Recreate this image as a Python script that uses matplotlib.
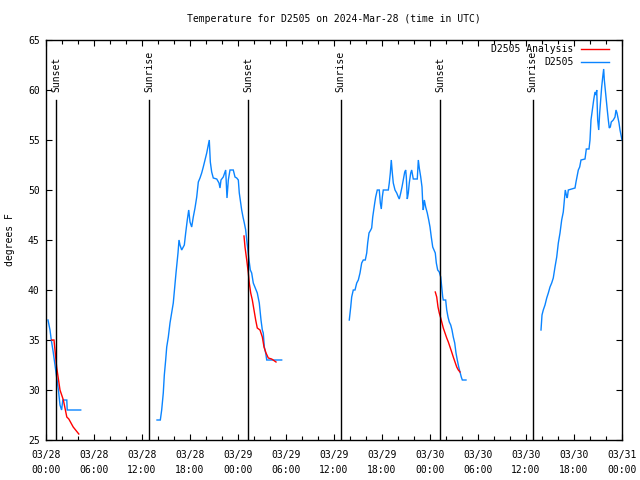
import numpy as np
import matplotlib
matplotlib.use("Agg")
import matplotlib.pyplot as plt
from matplotlib.lines import Line2D
from matplotlib.ticker import MultipleLocator

# ---- data (hours since 2024-03-28 00:00 UTC, degrees F) ----
obs1_h = [0.25, 0.5, 0.66, 0.9, 1.09, 1.34, 1.55, 1.75, 1.95, 2.1, 2.6, 2.65, 4.34]
obs1_t = [37, 36, 35, 33.8, 32.7, 31.3, 30, 28.5, 28, 29, 29, 28, 28]

obs2_h = [13.875, 14.29, 14.46, 14.66, 14.79, 14.96, 15.09, 15.29, 15.5, 15.71, 15.91,
          16.09, 16.25, 16.375, 16.5, 16.625, 16.75, 16.96, 17.29, 17.46, 17.66, 17.84,
          18.0, 18.21, 18.41, 18.625, 18.84, 19.04, 19.25, 19.46, 19.66, 19.875, 20.09,
          20.29, 20.41, 20.54, 20.71, 20.91, 21.34, 21.625, 21.75, 21.875, 22.16, 22.46,
          22.625, 22.79, 23.0, 23.41, 23.625, 23.84, 24.04, 24.16, 24.34, 24.46, 24.625,
          24.79, 24.96, 25.09, 25.21, 25.375, 25.54, 25.71, 25.91, 26.25, 26.41, 26.66,
          26.875, 27.04, 27.16, 27.29, 27.46, 27.59, 29.46]
obs2_t = [27, 27, 28, 29.7, 31.5, 33, 34.3, 35.3, 36.7, 37.7, 38.7,
          40.3, 41.7, 42.7, 43.7, 45, 44.5, 44, 44.5, 45.7, 47, 48,
          46.8, 46.3, 47.3, 48.2, 49.3, 50.8, 51.2, 51.7, 52.3, 53, 53.7,
          54.5, 55, 52.8, 51.8, 51.2, 51.1, 50.7, 50.2, 51, 51.3, 52,
          49.2, 51, 52, 52, 51.3, 51.2, 51, 49.7, 48.7, 48, 47.3,
          46.7, 46, 45, 44.2, 43, 42, 41.7, 40.7, 40, 39.7, 38.7,
          37, 36, 35.7, 34.3, 33.7, 33, 33]

obs3_h = [37.91, 38.09, 38.21, 38.41, 38.625, 38.84, 39.04, 39.25, 39.46, 39.66, 39.91,
          40.09, 40.21, 40.375, 40.59, 40.71, 40.84, 40.96, 41.09, 41.21, 41.41, 41.66,
          41.79, 41.91, 42.04, 42.16, 42.79, 42.91, 43.04, 43.16, 43.29, 43.41, 43.625,
          43.84, 44.04, 44.16, 44.34, 44.5, 44.66, 44.84, 44.96, 45.04, 45.16, 45.29,
          45.41, 45.59, 45.71, 45.91, 46.41, 46.54, 46.66, 46.84, 47.0, 47.09, 47.16,
          47.29, 47.46, 47.66, 47.84, 48.0, 48.16, 48.34, 48.5, 48.66, 48.79, 48.96,
          49.16, 49.34, 49.46, 49.59, 49.66, 49.96, 50.09, 50.25, 50.41, 50.59, 50.75,
          50.91, 51.09, 51.25, 51.41, 51.59, 51.75, 51.91, 52.04, 52.5]
obs3_t = [37, 38.3, 39.3, 40, 40, 40.7, 41, 41.7, 42.7, 43, 43,
          43.7, 44.7, 45.7, 46, 46.2, 47.3, 48, 48.7, 49.3, 50, 50,
          48.7, 48.1, 49.3, 50, 50, 50.7, 51.7, 53, 51.7, 50.7, 50,
          49.7, 49.3, 49.1, 49.7, 50.3, 51, 51.8, 52, 51.3, 49.1, 49.7,
          50.7, 51.7, 52, 51.1, 51.1, 53, 52.2, 51.3, 50.3, 48.7, 48,
          49, 48.3, 47.7, 47, 46.3, 45.3, 44.3, 44, 43.7, 42.7, 42,
          41.8, 41.3, 40.3, 39.3, 39, 39, 38, 37.3, 36.8, 36.5, 36,
          35.3, 34.7, 33.7, 33, 32.3, 31.8, 31.3, 31, 31]

obs4_h = [61.875, 62.0, 62.16, 62.375, 62.59, 62.79, 63.0, 63.21, 63.41, 63.625, 63.84,
          64.04, 64.25, 64.46, 64.66, 64.79, 64.91, 65.04, 65.16, 65.29, 66.125, 66.25,
          66.375, 66.54, 66.71, 66.875, 67.375, 67.54, 67.875, 68.0, 68.125, 68.29, 68.46,
          68.625, 68.75, 68.84, 68.96, 69.09, 69.21, 69.34, 69.46, 69.59, 69.71, 69.79,
          69.91, 70.04, 70.16, 70.29, 70.41, 70.54, 70.66, 70.91, 71.125, 71.25, 71.375,
          71.5, 71.625, 71.75, 71.875, 72.0]
obs4_t = [36, 37.5, 38, 38.5, 39.2, 39.7, 40.3, 40.7, 41.2, 42.3, 43.3,
          44.7, 45.7, 47, 47.8, 49, 50, 49.5, 49.2, 50, 50.2, 50.8,
          51.3, 52, 52.3, 53, 53.1, 54.1, 54.1, 55, 57, 58, 59,
          59.8, 59.5, 60, 57, 56, 57.7, 59, 60.3, 61.3, 62.1, 61,
          60, 59, 58, 57, 56.2, 56.3, 56.8, 57, 57.3, 58, 57.7,
          57.2, 56.7, 56, 55.5, 55]

ana1_h = [0.71, 1.0, 1.33, 1.75, 2.17, 2.6, 2.85, 3.4, 4.1]
ana1_t = [35, 35, 32.3, 30, 29, 27.3, 27.1, 26.3, 25.6]

ana2_h = [24.75, 24.875, 25.09, 25.29, 25.41, 25.59, 25.79, 26.0, 26.21, 26.41, 26.75,
          27.04, 27.25, 27.5, 27.79, 28.21, 28.75]
ana2_t = [45.4, 44.3, 43, 41.7, 40.7, 39.7, 39, 38, 37, 36.2, 36,
          35.3, 34.3, 33.7, 33.2, 33.1, 32.8]

ana3_h = [48.66, 48.84, 49.0, 49.16, 49.34, 49.5, 49.66, 49.875, 50.09, 50.29, 50.5,
          50.71, 50.91, 51.125, 51.34, 51.54, 51.75]
ana3_t = [39.8, 39.3, 38.3, 37.7, 37.2, 36.7, 36.2, 35.7, 35.2, 34.8, 34.3,
          33.8, 33.3, 32.8, 32.3, 32, 31.8]

sun_events = ["Sunset", "Sunrise", "Sunset", "Sunrise", "Sunset", "Sunrise"]
sun_hours = [1.25, 12.9, 25.27, 36.85, 49.3, 60.82]

tick_hours = [0, 6, 12, 18, 24, 30, 36, 42, 48, 54, 60, 66, 72]
tick_labels = ["03/28\n00:00", "03/28\n06:00", "03/28\n12:00", "03/28\n18:00",
               "03/29\n00:00", "03/29\n06:00", "03/29\n12:00", "03/29\n18:00",
               "03/30\n00:00", "03/30\n06:00", "03/30\n12:00", "03/30\n18:00",
               "03/31\n00:00"]

title = "Temperature for D2505 on 2024-Mar-28 (time in UTC)"
ylabel = "degrees F"
ana_label = "D2505 Analysis"
obs_label = "D2505"


def join(segs_h, segs_t):
    hh, tt = [], []
    for h, t in zip(segs_h, segs_t):
        hh += list(h) + [np.nan]
        tt += list(t) + [np.nan]
    return np.array(hh), np.array(tt)


RED = "#ff0000"
BLUE = "#0a84ff"
FONT = "DejaVu Sans Mono"
FS = 7

plt.rcParams["font.family"] = FONT
plt.rcParams["font.size"] = FS

fig = plt.figure(figsize=(6.4, 4.8), dpi=100)
ax = fig.add_axes([46 / 640, 40 / 480, 576 / 640, 400 / 480])

ah, at = join([ana1_h, ana2_h, ana3_h], [ana1_t, ana2_t, ana3_t])
oh, ot = join([obs1_h, obs2_h, obs3_h, obs4_h], [obs1_t, obs2_t, obs3_t, obs4_t])

ax.plot(oh, ot, color=BLUE, lw=1.0, solid_joinstyle="miter")
ax.plot(ah, at, color=RED, lw=1.0, solid_joinstyle="miter")

ax.set_xlim(0, 72)
ax.set_ylim(25, 65)

line_top = 59.0
for name, h in zip(sun_events, sun_hours):
    ax.plot([h, h], [25, line_top], color="black", lw=1.0)
    ax.text(h, 59.8, name, rotation=90, ha="center", va="bottom",
            fontsize=FS, family=FONT)

ax.set_xticks(tick_hours)
ax.set_xticklabels(tick_labels, linespacing=1.7)
ax.xaxis.set_minor_locator(MultipleLocator(2))
ax.set_yticks(np.arange(25, 66, 5))

ax.tick_params(axis="both", which="both", direction="in", top=True, right=True,
               width=0.8, labelsize=FS, colors="black")
ax.tick_params(axis="x", which="major", length=4, pad=7)
ax.tick_params(axis="x", which="minor", length=3)
ax.tick_params(axis="y", which="major", length=4, pad=4.5)
for s in ax.spines.values():
    s.set_linewidth(1.0)

# title centred over the plot area, as gnuplot does
ax.text(0.5, 1 + 21 / 400, title, transform=ax.transAxes, ha="center", va="center",
        fontsize=FS, family=FONT)
fig.text(10 / 640, 0.5, ylabel, rotation=90, ha="center", va="center", fontsize=FS, family=FONT)

# legend (manual, right aligned text as in the reference)
for lbl, col, yy in [(ana_label, RED, 0.9768), (obs_label, BLUE, 0.9458)]:
    ax.text(0.9155, yy, lbl, transform=ax.transAxes, ha="right", va="center",
            fontsize=FS, family=FONT)
    ax.add_line(Line2D([0.9288, 0.978], [yy, yy], transform=ax.transAxes,
                       color=col, lw=1.0))

fig.savefig("out.png", dpi=100)
